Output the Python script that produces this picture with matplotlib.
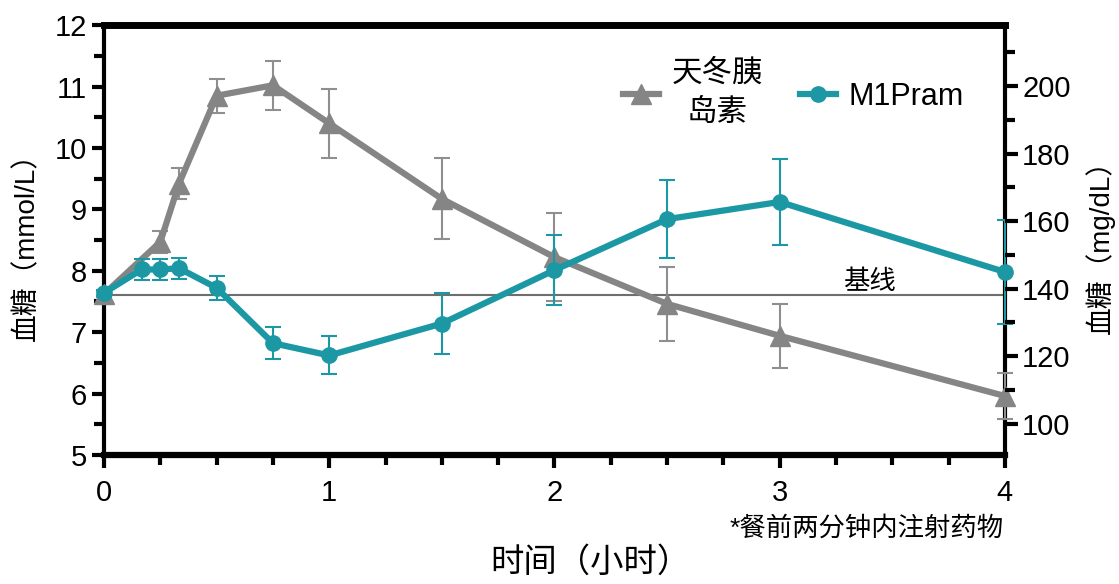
import matplotlib
matplotlib.use('Agg')
import matplotlib.pyplot as plt
from matplotlib.lines import Line2D
from matplotlib.ticker import MultipleLocator, NullFormatter

plt.rcParams['font.family'] = ['Liberation Sans', 'Noto Sans CJK SC']

# 天冬胰岛素 (mmol/L)
aspart_t = [0, 0.25, 0.333, 0.5, 0.75, 1, 1.5, 2, 2.5, 3, 4]
aspart_g = [7.62, 8.47, 9.42, 10.85, 11.02, 10.4, 9.17, 8.22, 7.46, 6.94, 5.96]
aspart_err = [0.05, 0.18, 0.25, 0.28, 0.4, 0.56, 0.66, 0.72, 0.6, 0.52, 0.38]

# M1Pram (mmol/L)
m1_t = [0, 0.167, 0.25, 0.333, 0.5, 0.75, 1, 1.5, 2, 2.5, 3, 4]
m1_g = [7.64, 8.02, 8.02, 8.04, 7.72, 6.82, 6.62, 7.14, 8.01, 8.84, 9.12, 7.98]
m1_err = [0.05, 0.17, 0.17, 0.17, 0.19, 0.26, 0.31, 0.5, 0.57, 0.64, 0.7, 0.85]

baseline = 7.6
gray = '#858585'
teal = '#1b98a4'

fig = plt.figure(figsize=(11.19, 5.84), dpi=100)
ax = fig.add_axes([0.093, 0.221, 0.805, 0.736])

ax.axhline(baseline, color='#6e6e6e', lw=1.5, zorder=1)
ax.text(3.4, baseline + 0.02, '基线', fontsize=19, ha='center', va='bottom')

ax.errorbar(aspart_t, aspart_g, yerr=aspart_err, color=gray, lw=4.5, marker='^',
            ms=14, elinewidth=1.5, ecolor='#8f8f8f', capsize=6, capthick=1.5,
            clip_on=False, zorder=3)
ax.errorbar(m1_t, m1_g, yerr=m1_err, color=teal, lw=4.5, marker='o',
            ms=11, elinewidth=1.5, ecolor=teal, capsize=6, capthick=1.5,
            clip_on=False, zorder=4)

ax.set_xlim(0, 4)
ax.set_ylim(5, 12)
ax.xaxis.set_major_locator(MultipleLocator(1))
ax.xaxis.set_minor_locator(MultipleLocator(0.25))
ax.yaxis.set_major_locator(MultipleLocator(1))
ax.yaxis.set_minor_locator(MultipleLocator(0.5))
ax.tick_params(axis='both', which='major', labelsize=21, width=3, length=9, direction='out')
ax.tick_params(axis='both', which='minor', width=3, length=7, direction='out')
ax.tick_params(axis='x', pad=8)

for side, lw in [('left', 3), ('bottom', 4.5), ('top', 5), ('right', 3)]:
    ax.spines[side].set_linewidth(lw)

ax.set_ylabel('血糖（mmol/L）', fontsize=20, labelpad=10)
ax.set_xlabel('时间（小时）', fontsize=24, labelpad=32)
ax.xaxis.set_label_coords(0.54, -0.215)

ax2 = ax.twinx()
ax2.set_ylim(90.8, 218)
ax2.yaxis.set_major_locator(MultipleLocator(20))
ax2.yaxis.set_minor_locator(MultipleLocator(10))
ax2.yaxis.set_minor_formatter(NullFormatter())
ax2.tick_params(axis='y', which='major', labelsize=21, width=3, length=9, direction='out')
ax2.tick_params(axis='y', which='minor', width=3, length=7, direction='out')
ax2.set_yticks([100, 120, 140, 160, 180, 200])
for side in ['left', 'bottom', 'top', 'right']:
    ax2.spines[side].set_visible(False)
ax2.set_ylabel('血糖（mg/dL）', fontsize=20, labelpad=10)

handles = [Line2D([], [], color=gray, lw=4.5, marker='^', ms=14),
           Line2D([], [], color=teal, lw=4.5, marker='o', ms=11)]
leg = ax.legend(handles, ['天冬胰\n岛素', 'M1Pram'], loc='upper left',
                bbox_to_anchor=(0.545, 0.985), ncol=2, frameon=False,
                fontsize=22, handlelength=1.2, handletextpad=0.4, columnspacing=1.2,
                labelspacing=0.3)
for t in leg.get_texts():
    t.set_multialignment('center')
    t.set_linespacing(1.4)

fig.text(0.897, 0.095, '*餐前两分钟内注射药物', fontsize=19, ha='right', va='center')

fig.savefig('out.png', dpi=100)
